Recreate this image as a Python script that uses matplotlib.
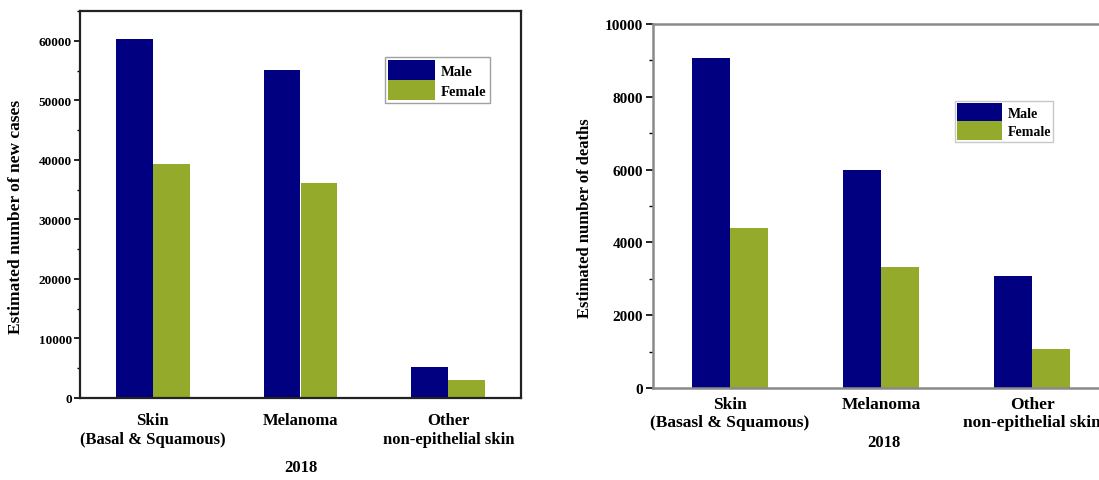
import matplotlib
matplotlib.use("Agg")
import matplotlib.pyplot as plt
import numpy as np
from matplotlib.ticker import MultipleLocator

categories_left = ["Skin\n(Basal & Squamous)", "Melanoma", "Other\nnon-epithelial skin"]
categories_right = ["Skin\n(Basasl & Squamous)", "Melanoma", "Other\nnon-epithelial skin"]
new_cases_male = [60250, 55150, 5150]
new_cases_female = [39250, 36100, 3030]
deaths_male = [9070, 5990, 3090]
deaths_female = [4390, 3330, 1070]
year_label = "2018"

MALE = "#000080"
FEMALE = "#93AA2A"
W, H = 1099, 481
plt.rcParams['font.family'] = ['Liberation Serif', 'DejaVu Serif']
plt.rcParams['font.weight'] = 'bold'

fig = plt.figure(figsize=(W / 100, H / 100), dpi=100)

def px_axes(x0, x1, ytop, ybot):
    return fig.add_axes([x0 / W, (H - ybot) / H, (x1 - x0) / W, (ybot - ytop) / H])

bw = 0.25

# Left chart
ax1 = px_axes(80, 521, 12, 399)
x = np.arange(len(categories_left))
ax1.bar(x - bw / 2, new_cases_male, bw, color=MALE, label="Male")
ax1.bar(x + bw / 2, new_cases_female, bw, color=FEMALE, label="Female")
ax1.set_xlim(-0.49, 2.49)
ax1.set_ylim(0, 65000)
ax1.yaxis.set_major_locator(MultipleLocator(10000))
ax1.yaxis.set_minor_locator(MultipleLocator(5000))
ax1.set_xticks(x)
ax1.set_xticklabels(categories_left, fontsize=12, fontweight='bold', linespacing=1.25)
ax1.tick_params(axis='x', length=0, pad=10)
ax1.tick_params(axis='y', which='major', length=4, width=1.2, labelsize=9.5, pad=2)
ax1.tick_params(axis='y', which='minor', length=2.5, width=1.0)
for lab in ax1.get_yticklabels():
    lab.set_fontweight('bold')
for s in ax1.spines.values():
    s.set_linewidth(1.6)
    s.set_color('#222222')
ax1.set_ylabel("Estimated number of new cases", fontsize=12.5, fontweight='bold')
ax1.yaxis.set_label_coords(-0.127, 0.47)
ax1.set_xlabel(year_label, fontsize=12, fontweight='bold', labelpad=9)
ax1.legend(loc='upper left', bbox_to_anchor=(385 / W, 1 - 58 / H), bbox_transform=fig.transFigure,
           borderaxespad=0, handlelength=3.2, handleheight=1.75, labelspacing=0,
           handletextpad=0.45, borderpad=0.2, fancybox=False, edgecolor='#888888',
           prop={'weight': 'bold', 'size': 10.5})

# Right chart (cropped at the right edge)
ax2 = px_axes(653, 1115, 25, 389)
x2 = np.arange(len(categories_right))
ax2.bar(x2 - bw / 2, deaths_male, bw, color=MALE, label="Male")
ax2.bar(x2 + bw / 2, deaths_female, bw, color=FEMALE, label="Female")
ax2.set_xlim(-0.51, 2.55)
ax2.set_ylim(0, 10000)
ax2.yaxis.set_major_locator(MultipleLocator(2000))
ax2.yaxis.set_minor_locator(MultipleLocator(1000))
ax2.set_xticks(x2)
ax2.set_xticklabels(categories_right, fontsize=12.5, fontweight='bold', linespacing=1.15)
ax2.tick_params(axis='x', length=0, pad=6)
ax2.tick_params(axis='y', which='major', length=5, width=1.2, labelsize=11, pad=2)
ax2.tick_params(axis='y', which='minor', length=3, width=1.0)
for lab in ax2.get_yticklabels():
    lab.set_fontweight('bold')
for s in ax2.spines.values():
    s.set_linewidth(1.8)
    s.set_color('#8a8a8a')
ax2.set_ylabel("Estimated number of deaths", fontsize=12, fontweight='bold')
ax2.yaxis.set_label_coords(-0.13, 0.47)
ax2.set_xlabel(year_label, fontsize=12, fontweight='bold', labelpad=3)
ax2.legend(loc='upper left', bbox_to_anchor=(955 / W, 1 - 102 / H), bbox_transform=fig.transFigure,
           borderaxespad=0, handlelength=3.2, handleheight=1.65, labelspacing=0,
           handletextpad=0.45, borderpad=0.15, fancybox=False, edgecolor='#bbbbbb',
           prop={'weight': 'bold', 'size': 10})

fig.savefig("out.png", dpi=100, facecolor='white')
